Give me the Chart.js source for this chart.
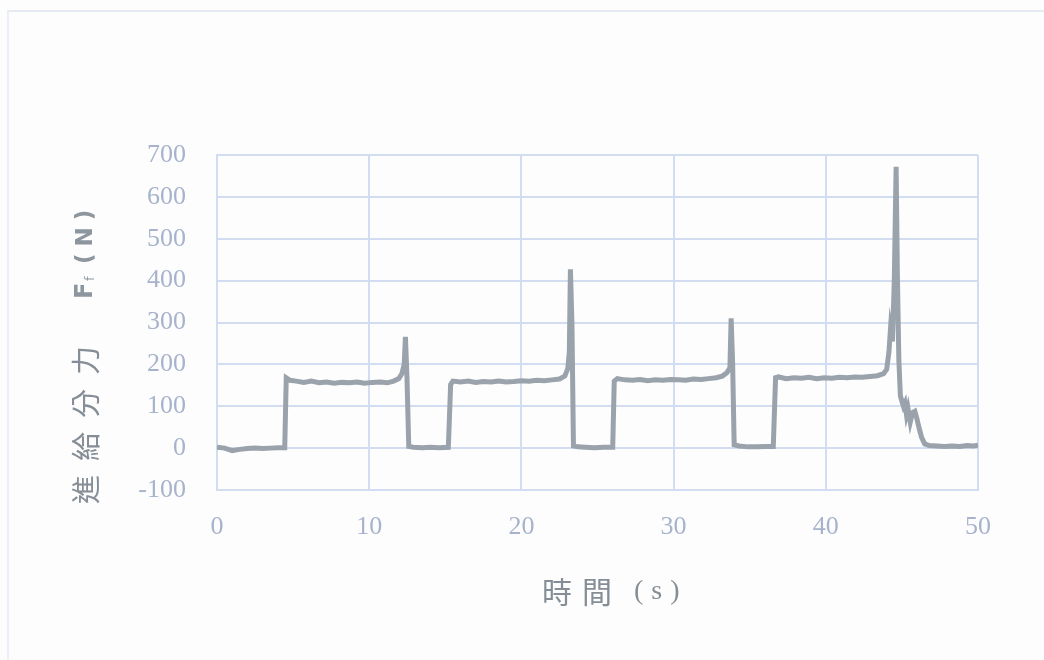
<!DOCTYPE html>
<html>
<head>
<meta charset="utf-8">
<script src="https://cdn.jsdelivr.net/npm/chart.js@4"></script>
<style>
  html, body { margin: 0; padding: 0; background: #fdfdfd; }
  .frame { position: absolute; left: 7px; top: 10px; right: 0; bottom: 0; border-top: 2px solid #e6eaf3; border-left: 2px solid #eceff5; }
  canvas { position: absolute; left: 0; top: 0; }
</style>
</head>
<body>
<div class="frame"></div>
<canvas id="chart" width="1044" height="660"></canvas>
<script>
// time (s) and feed force Ff (N)
const timeS = [
  0, 0.5, 1.0, 1.5, 2.0, 2.5, 3.0, 3.5, 4.0, 4.45,
  4.55, 4.8, 5.2, 5.7, 6.2, 6.7, 7.2, 7.7, 8.2, 8.7, 9.2, 9.7, 10.2, 10.7, 11.2, 11.6, 11.95, 12.15, 12.3, 12.38, 12.48, 12.6,
  12.9, 13.5, 14.0, 14.6, 15.2,
  15.35, 15.5, 16.0, 16.5, 17.0, 17.5, 18.0, 18.5, 19.0, 19.5, 20.0, 20.5, 21.0, 21.5, 22.0, 22.5, 22.85, 23.05, 23.15, 23.22, 23.32, 23.42,
  23.7, 24.2, 24.8, 25.4, 26.0,
  26.1, 26.3, 26.8, 27.3, 27.8, 28.3, 28.8, 29.3, 29.8, 30.3, 30.8, 31.3, 31.8, 32.3, 32.8, 33.2, 33.5, 33.7, 33.78, 33.88, 33.98,
  34.3, 34.9, 35.5, 36.0, 36.55,
  36.7, 36.9, 37.4, 37.9, 38.4, 38.9, 39.4, 39.9, 40.4, 40.9, 41.4, 41.9, 42.4, 42.9, 43.4, 43.8, 44.0, 44.15, 44.25, 44.38, 44.5, 44.62, 44.7, 44.8, 44.9,
  45.0, 45.1, 45.2, 45.3, 45.4, 45.55, 45.7, 45.85, 46.0, 46.15, 46.3, 46.5, 46.8,
  47.3, 47.8, 48.3, 48.8, 49.3, 49.7, 50.0
];
const forceN = [
  2, 0, -6, -3, -1, 0, -1, 0, 1, 1,
  168, 162, 160, 157, 160, 156, 158, 155, 157, 156, 158, 155, 157, 158, 156, 160, 166, 178, 200, 266, 170, 4,
  2, 1, 2, 1, 2,
  152, 160, 158, 160, 157, 159, 158, 160, 158, 159, 161, 160, 162, 161, 163, 165, 172, 190, 230, 427, 300, 5,
  3, 2, 1, 2, 2,
  160, 166, 163, 162, 164, 161, 163, 162, 164, 163, 162, 165, 164, 166, 168, 172, 180, 192, 310, 200, 8,
  5, 3, 3, 4, 4,
  168, 170, 166, 168, 167, 169, 166, 168, 167, 169, 168, 170, 169, 171, 173, 178, 188, 230, 285, 255, 400, 672, 420, 210, 125,
  112, 100, 108, 80, 95, 62, 85, 88, 68, 45, 25, 10, 6,
  5, 4, 5, 4, 6, 5, 7
];
const yTicks = [-100, 0, 100, 200, 300, 400, 500, 600, 700];
const xTicks = [0, 10, 20, 30, 40, 50];

const points = timeS.map((t, i) => ({ x: t, y: forceN[i] }));

const tickColor = '#a7b3cc';
const gridColor = '#d3ddf1';
const titleColor = '#858e97';

// axis titles, drawn by hand to keep the spaced-out look of the original
const titlesPlugin = {
  id: 'titles',
  afterDraw(chart) {
    const ctx = chart.ctx;
    ctx.save();
    ctx.fillStyle = titleColor;
    ctx.textBaseline = 'middle';
    ctx.textAlign = 'left';

    // x title
    ctx.font = '30px "Noto Sans CJK TC"';
    ctx.fillText('時', 542, 592);
    ctx.fillText('間', 582, 592);
    ctx.font = '28px "Liberation Serif"';
    ctx.letterSpacing = '8px';
    ctx.fillText('(s)', 634, 592);

    // y title, rotated
    ctx.translate(86, 0);
    ctx.rotate(-Math.PI / 2);
    ctx.font = '29px "Noto Sans CJK TC"';
    ctx.letterSpacing = '14px';
    ctx.fillText('進給分力', -504, 0);
    ctx.fillStyle = '#8d969e';
    ctx.font = 'bold 24px "DejaVu Sans"';
    ctx.letterSpacing = '0px';
    ctx.fillText('F', -299, 0);
    ctx.font = '13px "DejaVu Sans"';
    ctx.fillText('f', -281, 5);
    ctx.font = 'bold 23px "DejaVu Sans"';
    ctx.letterSpacing = '7px';
    ctx.fillText('(N)', -264, 0);
    ctx.restore();
  }
};

new Chart(document.getElementById('chart').getContext('2d'), {
  type: 'line',
  data: {
    datasets: [{
      data: points,
      borderColor: '#9aa2ac',
      borderWidth: 5,
      pointRadius: 0,
      tension: 0,
      fill: false,
    }],
  },
  options: {
    responsive: false,
    animation: false,
    layout: { padding: { top: 155, right: 66, left: 0, bottom: 0 } },
    plugins: { legend: { display: false }, tooltip: { enabled: false } },
    scales: {
      x: {
        type: 'linear',
        min: 0,
        max: 50,
        afterFit: (s) => { s.height = 170; },
        afterBuildTicks: (s) => { s.ticks = xTicks.map((v) => ({ value: v })); },
        grid: { color: gridColor, lineWidth: 2, drawTicks: false },
        border: { color: gridColor, width: 2 },
        ticks: { color: tickColor, padding: 22, font: { family: '"Liberation Serif"', size: 26 } },
      },
      y: {
        min: -100,
        max: 700,
        afterFit: (s) => { s.width = 217; },
        afterBuildTicks: (s) => { s.ticks = yTicks.map((v) => ({ value: v })); },
        grid: { color: gridColor, lineWidth: 2, drawTicks: false },
        border: { color: gridColor, width: 2 },
        ticks: { color: tickColor, padding: 31, font: { family: '"Liberation Serif"', size: 26 } },
      },
    },
  },
  plugins: [titlesPlugin],
});
</script>
</body>
</html>
